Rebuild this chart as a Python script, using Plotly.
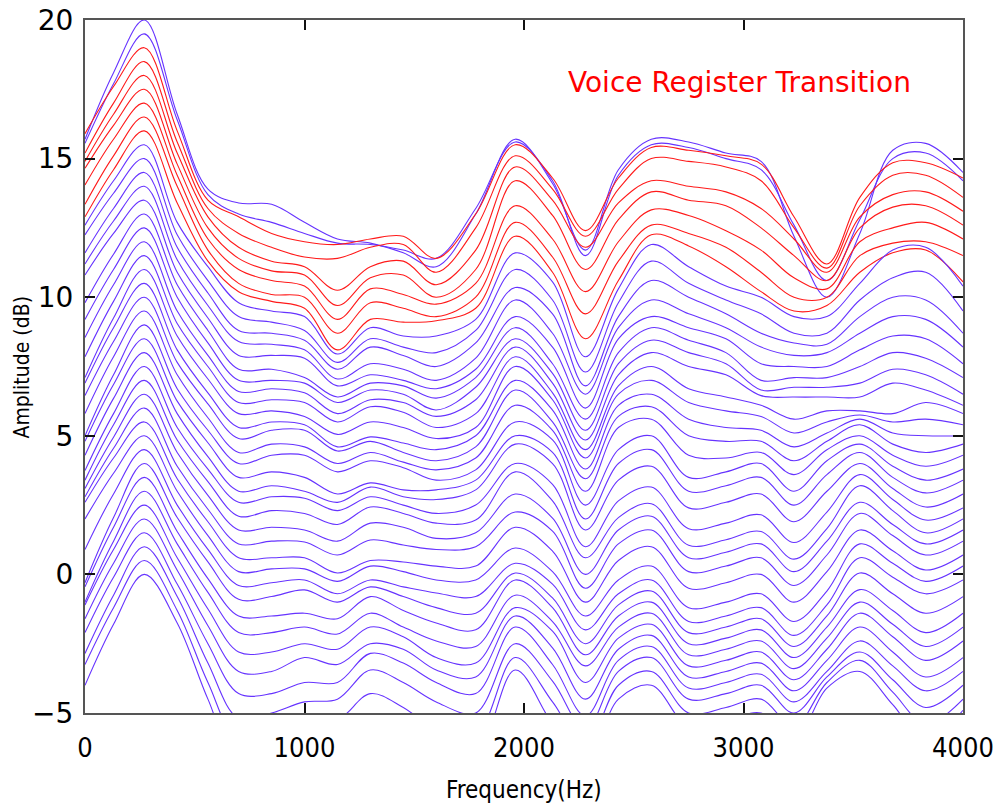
import plotly.graph_objects as go

freq_hz = [0, 130, 270, 420, 560, 700, 850, 1000, 1150, 1300, 1450, 1600, 1780,
           1960, 2130, 2280, 2430, 2580, 2750, 2920, 3080, 3230, 3380, 3530,
           3680, 3830, 4000]

# Amplitude (dB) of curves 0..40 (top to bottom) at each frequency above
amp_f0000 = [15.7, 15.55, 15.9, 15.2, 14.9, 14.65, 14.05, 13.35, 12.9,
             12.6, 12.25, 11.6, 11.2, 10.8, 9.8, 9.2, 8.55, 7.85, 7.1, 6.9, 6.45, 5.8, 5.0, 4.8, 4.3,
             3.75, 3.4, 3.1, 2.8, 2.6, 2.0, 0.9, -0.3, -0.45, -1.0, -1.1, -1.6, -2.1, -2.85, -3.25, -4.0]
amp_f0130 = [18.1, 17.7, 17.6, 17.0, 16.6, 16.2, 15.7, 15.1, 14.6,
             14.2, 13.75, 13.2, 12.75, 12.3, 11.55, 11.0, 10.45, 9.85, 9.25, 8.9, 8.4, 7.85, 7.2, 6.85,
             6.35, 5.8, 5.4, 4.95, 4.55, 4.2, 3.65, 2.9, 2.05, 1.7, 1.2, 0.9, 0.4, -0.1, -0.75, -1.2, -1.8]
amp_f0270 = [20.0, 19.5, 19.0, 18.5, 18.0, 17.5, 17.0, 16.5, 16.0,
             15.5, 15.0, 14.5, 14.0, 13.5, 13.0, 12.5, 12.0, 11.5, 11.0, 10.5, 10.0, 9.5, 9.0, 8.5,
             8.0, 7.5, 7.0, 6.5, 6.0, 5.5, 5.0, 4.5, 4.0, 3.5, 3.0, 2.5, 2.0, 1.5, 1.0, 0.5, 0.0]
amp_f0420 = [16.6, 16.4, 16.0, 15.6, 15.2, 14.8, 14.4, 14.0, 13.4,
             12.7, 12.25, 11.8, 11.35, 10.9, 10.45, 10.0, 9.5, 9.05, 8.6, 8.1, 7.65, 7.2, 6.7, 6.25,
             5.8, 5.3, 4.85, 4.4, 3.9, 3.45, 3.0, 2.5, 2.05, 1.55, 1.1, 0.6, 0.15, -0.35, -0.8, -1.3, -1.75]
amp_f0560 = [13.9, 13.7, 13.5, 13.2, 12.9, 12.5, 12.1, 11.7, 11.3,
             11.1, 10.6, 10.15, 9.7, 9.25, 8.8, 8.35, 7.9, 7.5, 7.05, 6.55, 6.15, 5.65, 5.2, 4.75,
             4.25, 3.8, 3.35, 2.85, 2.35, 1.9, 1.4, 0.9, 0.45, -0.15, -0.65, -1.25, -1.85, -2.5, -3.2, -3.9, -4.5]
amp_f0700 = [13.4, 13.0, 12.9, 12.3, 11.8, 11.4, 11.0, 10.5, 10.2,
             9.8, 9.3, 8.8, 8.4, 7.9, 7.4, 7.0, 6.6, 6.2, 5.8, 5.3, 4.9, 4.4, 4.0, 3.5,
             3.0, 2.6, 2.1, 1.6, 1.1, 0.6, 0.1, -0.4, -0.9, -1.5, -2.1, -2.8, -3.5, -4.3, -5.2, -6.0, -6.8]
amp_f0850 = [13.35, 12.7, 12.3, 11.8, 11.3, 10.95, 10.6, 10.1, 9.85,
             9.5, 9.1, 8.7, 8.3, 7.9, 7.4, 7.0, 6.7, 6.3, 5.9, 5.5, 5.2, 4.7, 4.3, 3.7,
             3.2, 2.8, 2.3, 1.7, 1.2, 0.6, 0.2, -0.3, -0.8, -1.5, -2.1, -2.8, -3.5, -4.3, -5.0, -5.6, -6.3]
amp_f1000 = [12.7, 12.3, 12.0, 11.45, 11.1, 10.8, 10.4, 10.0, 9.6,
             9.3, 8.8, 8.45, 8.1, 7.8, 7.1, 6.9, 6.55, 6.2, 5.7, 5.4, 5.2, 4.6, 4.3, 3.5,
             3.0, 2.75, 2.2, 1.6, 1.17, 0.6, 0.2, -0.2, -0.56, -1.4, -1.9, -2.5, -3.0, -3.9, -4.6, -5.2, -6.0]
amp_f1150 = [12.1, 11.95, 11.9, 11.4, 10.25, 9.7, 9.2, 8.7, 8.1,
             7.95, 7.65, 7.4, 7.05, 6.8, 6.4, 6.2, 5.8, 5.5, 5.05, 4.6, 4.45, 4.0, 3.7, 2.9,
             2.6, 2.3, 1.8, 1.2, 0.7, 0.05, -0.25, -0.7, -1.0, -1.6, -2.15, -2.7, -3.25, -3.9, -4.5, -5.25, -6.1]
amp_f1300 = [11.95, 11.9, 12.1, 11.8, 11.1, 10.7, 10.3, 9.8, 9.2,
             8.9, 8.5, 8.2, 7.6, 7.2, 6.9, 6.65, 6.3, 6.05, 5.5, 4.96, 4.8, 4.4, 4.1, 3.3,
             3.15, 2.8, 2.43, 1.85, 1.24, 0.5, 0.3, -0.2, -0.45, -0.8, -1.4, -1.9, -2.5, -2.85, -3.45, -4.3, -5.2]
amp_f1450 = [11.6, 11.7, 12.2, 11.9, 11.3, 10.8, 10.1, 9.6, 9.1,
             8.6, 8.2, 7.9, 7.4, 7.0, 6.8, 6.5, 6.2, 5.85, 5.3, 4.74, 4.4, 4.05, 3.85, 3.05,
             2.8, 2.5, 2.2, 1.7, 1.06, 0.45, 0.1, -0.45, -0.8, -1.3, -1.9, -2.25, -2.7, -3.2, -3.9, -4.8, -5.8]
amp_f1600 = [11.1, 11.4, 11.4, 10.9, 10.45, 10.0, 9.75, 9.3, 9.15,
             8.6, 8.0, 7.5, 7.0, 6.7, 6.36, 5.93, 5.7, 5.3, 4.9, 4.5, 4.1, 3.77, 3.4, 3.05,
             2.7, 2.2, 1.85, 1.3, 0.9, 0.3, -0.2, -0.67, -1.2, -1.75, -2.4, -3.0, -3.45, -3.9, -4.6, -5.6, -6.6]
amp_f1780 = [13.0, 13.2, 13.0, 12.5, 11.7, 11.0, 10.5, 10.0, 9.6,
             9.2, 8.8, 8.35, 7.8, 7.4, 7.1, 6.75, 6.3, 5.8, 5.3, 5.0, 4.6, 4.2, 3.77, 3.4,
             3.05, 2.5, 1.96, 1.5, 1.0, 0.3, -0.2, -0.8, -1.4, -2.0, -2.6, -3.2, -3.7, -4.3, -5.0, -5.8, -6.5]
amp_f1960 = [15.7, 15.6, 15.5, 15.1, 14.7, 14.2, 13.3, 12.7, 12.2,
             11.6, 11.0, 10.35, 9.9, 9.3, 8.9, 8.5, 8.2, 7.85, 7.5, 7.0, 6.65, 6.1, 5.5, 5.0,
             4.7, 4.0, 3.7, 2.9, 2.25, 1.7, 0.95, 0.4, 0.05, -0.2, -0.75, -1.2, -1.5, -1.9, -2.5, -3.0, -3.45]
amp_f2130 = [14.1, 14.2, 14.3, 13.9, 13.5, 12.95, 12.1, 11.45, 10.9,
             10.55, 9.9, 9.4, 8.7, 8.2, 7.6, 7.25, 6.9, 6.55, 6.3, 5.93, 5.5, 5.2, 4.85, 4.4,
             4.0, 3.25, 2.65, 2.03, 1.56, 0.84, 0.1, -0.35, -0.85, -1.2, -1.7, -2.05, -2.65, -3.25, -3.85, -4.6, -5.4]
amp_f2280 = [11.7, 11.5, 12.4, 12.2, 11.8, 11.0, 10.2, 9.4, 8.5,
             7.85, 7.3, 6.8, 6.5, 6.0, 5.6, 5.2, 4.85, 4.5, 4.2, 3.8, 3.45, 3.0, 2.5, 2.0,
             1.6, 1.0, 0.6, 0.0, -0.5, -1.0, -1.5, -2.0, -2.5, -2.9, -3.3, -3.9, -4.5, -5.1, -5.6, -6.2, -6.8]
amp_f2430 = [14.6, 14.4, 14.3, 13.9, 13.4, 12.8, 12.0, 11.3, 10.6,
             10.3, 9.8, 9.3, 8.9, 8.5, 8.0, 7.6, 7.2, 6.8, 6.5, 6.1, 5.7, 5.3, 4.5, 4.0,
             3.4, 2.65, 2.05, 1.6, 1.1, 0.5, -0.2, -0.7, -1.1, -1.5, -1.9, -2.3, -2.7, -3.1, -3.5, -4.0, -4.5]
amp_f2580 = [15.7, 15.5, 15.4, 15.0, 14.2, 13.8, 13.15, 12.6, 12.25,
             11.9, 11.3, 10.6, 9.9, 9.3, 8.9, 8.45, 8.0, 7.5, 7.0, 6.5, 6.05, 5.6, 5.0, 4.5,
             3.9, 3.15, 2.55, 2.1, 1.6, 1.0, 0.3, -0.2, -0.6, -1.0, -1.4, -1.8, -2.2, -2.6, -3.0, -3.5, -4.0]
amp_f2750 = [15.6, 15.4, 15.3, 14.9, 14.0, 13.5, 12.95, 12.3, 11.85,
             11.1, 10.5, 10.0, 9.4, 8.9, 8.45, 8.0, 7.5, 6.7, 6.2, 5.6, 5.0, 4.3, 3.5, 3.0,
             2.4, 1.65, 1.05, 0.6, 0.1, -0.5, -1.2, -1.7, -2.1, -2.5, -2.9, -3.3, -3.7, -4.1, -4.5, -5.0, -5.5]
amp_f2920 = [15.2, 15.0, 15.1, 14.7, 13.8, 13.3, 12.4, 11.8, 11.1,
             10.4, 9.9, 9.4, 8.9, 8.5, 8.0, 7.6, 7.2, 6.4, 5.9, 5.3, 4.8, 4.2, 3.7, 3.2,
             2.6, 1.85, 1.25, 0.8, 0.3, -0.3, -1.0, -1.5, -1.9, -2.3, -2.7, -3.1, -3.5, -3.9, -4.3, -4.8, -5.3]
amp_f3080 = [14.9, 14.6, 14.8, 14.2, 13.2, 12.5, 11.7, 10.9, 10.2,
             10.0, 9.4, 8.7, 8.2, 7.6, 7.0, 6.65, 6.45, 6.1, 5.7, 5.2, 4.8, 4.4, 4.0, 3.5,
             2.9, 2.15, 1.55, 1.1, 0.6, 0.0, -0.7, -1.2, -1.6, -2.0, -2.4, -2.8, -3.2, -3.6, -4.0, -4.5, -5.0]
amp_f3230 = [12.2, 12.6, 12.9, 12.5, 12.1, 11.5, 10.7, 10.0, 9.5,
             9.3, 8.7, 8.35, 7.9, 7.5, 7.1, 6.75, 6.4, 5.6, 5.1, 4.6, 4.1, 3.6, 3.0, 2.5,
             1.9, 1.15, 0.55, 0.1, -0.4, -1.0, -1.7, -2.2, -2.6, -3.0, -3.4, -3.8, -4.2, -4.6, -5.0, -5.5, -6.0]
amp_f3380 = [10.0, 10.6, 11.2, 11.05, 10.9, 10.6, 10.3, 10.0, 9.7,
             9.3, 8.7, 8.3, 8.0, 7.5, 7.1, 6.75, 6.4, 5.9, 5.5, 5.1, 4.8, 4.5, 4.1, 3.6,
             3.0, 2.25, 1.65, 1.2, 0.7, 0.1, -0.6, -1.1, -1.5, -1.9, -2.3, -2.7, -3.1, -3.5, -3.7, -3.9, -4.1]
amp_f3530 = [12.3, 12.8, 13.6, 13.3, 12.9, 12.5, 12.0, 11.5, 10.9,
             10.5, 9.9, 9.3, 8.7, 8.1, 7.5, 6.9, 6.4, 5.9, 5.75, 5.6, 5.4, 5.0, 4.7, 4.4,
             4.0, 3.6, 3.2, 2.6, 2.2, 1.6, 1.1, 0.6, 0.05, -0.55, -1.0, -1.4, -1.9, -2.4, -2.8, -3.1, -3.5]
amp_f3680 = [15.3, 15.0, 14.85, 14.4, 13.7, 13.25, 12.5, 11.95, 11.6,
             11.7, 10.7, 10.0, 9.3, 8.6, 8.0, 7.4, 6.9, 5.8, 5.5, 5.1, 4.7, 4.3, 3.9, 3.5,
             3.1, 2.7, 2.3, 1.8, 1.4, 0.85, 0.4, -0.1, -0.7, -1.3, -1.8, -2.25, -2.8, -3.3, -3.8, -4.25, -4.7]
amp_f3830 = [15.55, 15.2, 14.85, 14.4, 13.8, 13.3, 12.7, 12.0, 11.7,
             11.8, 10.9, 9.9, 9.2, 8.5, 7.8, 7.2, 6.65, 6.2, 5.6, 5.0, 4.4, 3.9, 3.4, 2.94,
             2.43, 1.96, 1.5, 1.1, 0.7, 0.16, -0.25, -0.7, -1.4, -2.1, -2.6, -3.1, -3.7, -4.2, -4.8, -5.4, -6.0]
amp_f4000 = [14.5, 14.2, 14.3, 13.6, 13.1, 12.6, 12.1, 11.5, 10.55,
             10.4, 9.5, 8.7, 8.2, 7.6, 7.1, 6.5, 6.1, 5.8, 5.4, 5.0, 4.7, 4.3, 3.8, 3.4,
             2.9, 2.4, 2.0, 1.6, 1.2, 0.7, 0.3, -0.2, -0.8, -1.4, -1.9, -2.4, -3.0, -3.5, -4.0, -4.5, -4.9]

columns = [amp_f0000, amp_f0130, amp_f0270, amp_f0420, amp_f0560, amp_f0700, amp_f0850,
           amp_f1000, amp_f1150, amp_f1300, amp_f1450, amp_f1600, amp_f1780, amp_f1960,
           amp_f2130, amp_f2280, amp_f2430, amp_f2580, amp_f2750, amp_f2920, amp_f3080,
           amp_f3230, amp_f3380, amp_f3530, amp_f3680, amp_f3830, amp_f4000]

n_curves = 41
red_curves = [2, 3, 4, 5, 6, 7, 8]   # the "voice register transition" frames

assert len(columns) == len(freq_hz)
for c in columns:
    assert len(c) == n_curves, len(c)

BLUE = "#6633ff"
RED = "#ff1a1a"

fig = go.Figure()
for i in range(n_curves):
    ys = [col[i] for col in columns]
    fig.add_trace(go.Scatter(
        x=freq_hz, y=ys, mode="lines",
        line=dict(color=RED if i in red_curves else BLUE, width=1.1,
                  shape="spline", smoothing=1.0),
        showlegend=False, hoverinfo="skip"))

axis_common = dict(
    showgrid=False, zeroline=False, showline=True, linecolor="#555555", linewidth=2,
    mirror="ticks", ticks="inside", ticklen=10, tickwidth=1.5, tickcolor="#111111",
    automargin=False,
)

fig.update_xaxes(range=[0, 4000], tickvals=[0, 1000, 2000, 3000, 4000],
                 tickfont=dict(family="DejaVu Sans Condensed", size=27, color="#000000"),
                 ticklabelstandoff=10, **axis_common)
fig.update_yaxes(range=[-5, 20], tickvals=[-5, 0, 5, 10, 15, 20],
                 tickfont=dict(family="DejaVu Sans", size=28, color="#000000"),
                 ticklabelstandoff=4, **axis_common)

fig.update_layout(
    width=1005, height=805, autosize=False,
    margin=dict(l=85, r=42, t=20, b=92, autoexpand=False),
    paper_bgcolor="white", plot_bgcolor="white",
    annotations=[
        dict(text="Voice Register Transition", x=0.745, y=0.9105, xref="paper", yref="paper",
             xanchor="center", yanchor="middle", showarrow=False,
             font=dict(family="DejaVu Sans", size=28, color="#ff0000")),
        dict(text="Amplitude (dB)", x=-0.0718, y=0.5, xref="paper", yref="paper",
             xanchor="center", yanchor="middle", showarrow=False, textangle=-90,
             font=dict(family="DejaVu Sans Condensed", size=21, color="#000000")),
        dict(text="Frequency(Hz)", x=0.5, y=-0.111, xref="paper", yref="paper",
             xanchor="center", yanchor="middle", showarrow=False,
             font=dict(family="DejaVu Sans Condensed", size=24, color="#000000")),
    ],
)

fig.write_html("out.html")
